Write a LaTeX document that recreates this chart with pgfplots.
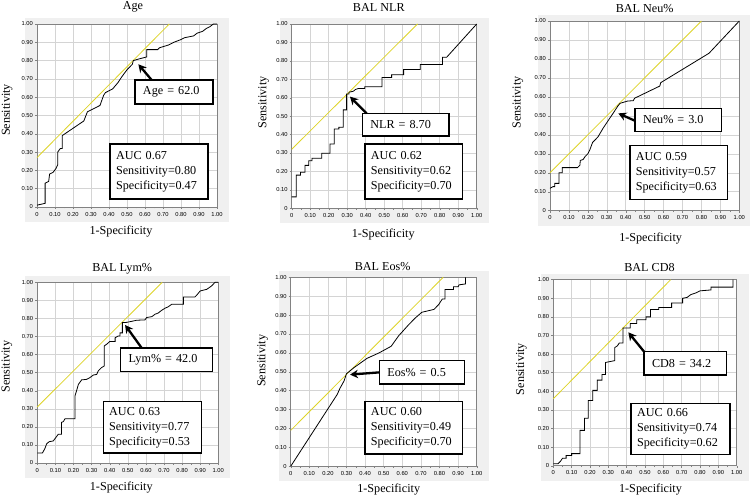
\documentclass[border=0pt]{standalone}
\usepackage{fontspec}
\setmainfont{Liberation Serif}
\newfontfamily\ticksf{Liberation Sans}
\usepackage{pgfplots}
\pgfplotsset{compat=1.18}
\usetikzlibrary{arrows.meta}
\definecolor{bgc}{RGB}{240,240,240}
\definecolor{gridc}{RGB}{212,212,212}
\definecolor{framec}{RGB}{130,130,130}
\definecolor{yel}{RGB}{222,212,40}
\newcommand{\lbl}{\fontsize{12.2}{15}\selectfont}
\newcommand{\tickf}{\ticksf\fontsize{5.8}{6.5}\selectfont}
\pgfplotsset{roc/.style={
  scale only axis, clip=false, xmin=0,xmax=1,ymin=0,ymax=1,
  xtick={0,0.1,0.2,0.3,0.4,0.5,0.6,0.7,0.8,0.9,1},
  ytick={0,0.1,0.2,0.3,0.4,0.5,0.6,0.7,0.8,0.9,1},
  xticklabels={0,0.10,0.20,0.30,0.40,0.50,0.60,0.70,0.80,0.90,1.00},
  yticklabels={0,0.10,0.20,0.30,0.40,0.50,0.60,0.70,0.80,0.90,1.00},
  minor xtick={0.05,0.15,0.25,0.35,0.45,0.55,0.65,0.75,0.85,0.95},
  xtick pos=bottom, ytick pos=left,
  grid=major,
  major grid style={draw=gridc,line width=0.5bp},
  axis line style={draw=framec,line width=0.6bp},
  tick align=outside,
  major tick length=2bp, minor tick length=1.5bp,
  every tick/.style={draw=framec,line width=0.4bp},
  tick label style={font=\tickf, inner sep=1bp},
  xticklabel style={yshift=-2bp},
  yticklabel style={xshift=-1bp},
  axis background/.style={fill=white},
}}
\newcommand{\ptitle}[3]{\node[font=\lbl,anchor=base,xshift=#2bp,yshift=#3bp] at (rel axis cs:0.5,1) {#1};}
\newcommand{\pxlab}[2]{\node[font=\lbl,anchor=base,xshift=#1bp,yshift=-#2bp] at (rel axis cs:0.5,0) {1-Specificity};}
\newcommand{\pylab}[2]{\node[font=\lbl,anchor=base,rotate=90,xshift=#2bp,yshift=#1bp] at (rel axis cs:0,0.5) {Sensitivity};}
\tikzset{cutbox/.style={draw=black,line width=1.3bp,fill=white,inner xsep=8bp,align=left,font=\lbl},
  aucbox/.style={draw=black,line width=1.3bp,fill=white,inner xsep=6bp,align=left,font=\lbl},
  arr/.style={line width=2.3bp,-{Stealth[length=8bp,width=8.5bp]}}}
\begin{document}
\begin{tikzpicture}
\useasboundingbox (0,0) rectangle (750bp,498bp);
\fill[bgc] (25bp,276bp) rectangle (229bp,480bp);
\fill[bgc] (279.7bp,274.7bp) rectangle (488.7bp,480bp);
\fill[bgc] (538bp,272.3bp) rectangle (750bp,483bp);
\fill[bgc] (25.3bp,20bp) rectangle (230.3bp,221.7bp);
\fill[bgc] (278.7bp,16.7bp) rectangle (488.7bp,226.7bp);
\fill[bgc] (541.3bp,17.3bp) rectangle (748.7bp,224.3bp);

% Panel 1 Age
\begin{axis}[roc, width=180bp, height=183bp, at={(37bp,291bp)}, anchor=south west]
\addplot[yel,line width=0.8bp] coordinates {(0,0.27) (0.735,1)};
\addplot[black,line width=0.8bp] coordinates {
(0,0.01)(0.045,0.02)(0.045,0.13)(0.065,0.14)(0.07,0.18)(0.09,0.19)(0.105,0.21)(0.115,0.23)(0.115,0.30)(0.13,0.32)(0.14,0.32)(0.14,0.39)(0.17,0.41)(0.20,0.43)(0.23,0.45)(0.26,0.47)(0.28,0.52)(0.31,0.535)(0.35,0.555)(0.37,0.61)(0.38,0.625)(0.42,0.645)(0.45,0.68)(0.47,0.71)(0.50,0.75)(0.53,0.78)(0.535,0.80)(0.57,0.81)(0.61,0.82)(0.61,0.86)(0.67,0.86)(0.68,0.87)(0.73,0.885)(0.76,0.90)(0.80,0.915)(0.82,0.925)(0.87,0.935)(0.89,0.95)(0.92,0.96)(0.94,0.975)(0.96,0.985)(0.98,1.0)(1,1)};
\node[cutbox,text width=62bp,minimum height=24bp] at (axis cs:0.761,0.628) {Age = 62.0};
\node[aucbox,text width=86bp,minimum height=55bp] at (axis cs:0.678,0.194) {AUC 0.67\\Sensitivity=0.80\\Specificity=0.47};
\draw[arr] (axis cs:0.637,0.694) -- (axis cs:0.563,0.78);
\ptitle{Age}{6}{14}
\pxlab{-6}{27.7}
\pylab{27}{5.5}
\end{axis}

% Panel 2 NLR
\begin{axis}[roc, width=185bp, height=184.3bp, at={(291.7bp,289.7bp)}, anchor=south west]
\addplot[yel,line width=0.8bp] coordinates {(0,0.32) (0.68,1)};
\addplot[black,line width=0.8bp] coordinates {
(0,0.062)(0.025,0.062)(0.025,0.18)(0.048,0.18)(0.048,0.196)(0.072,0.196)(0.072,0.233)(0.092,0.233)(0.092,0.258)(0.11,0.258)(0.11,0.272)(0.162,0.272)(0.162,0.299)(0.207,0.299)(0.207,0.349)(0.230,0.349)(0.230,0.43)(0.255,0.43)(0.255,0.44)(0.279,0.44)(0.279,0.534)(0.297,0.534)(0.297,0.62)(0.31,0.62)(0.31,0.63)(0.333,0.635)(0.345,0.645)(0.36,0.65)(0.395,0.65)(0.395,0.66)(0.488,0.66)(0.488,0.71)(0.54,0.71)(0.54,0.725)(0.605,0.725)(0.605,0.753)(0.695,0.753)(0.695,0.78)(0.815,0.78)(0.815,0.82)(0.838,0.82)(1,1)};
\node[cutbox,text width=70.7bp,minimum height=22.7bp] at (axis cs:0.616,0.454) {NLR = 8.70};
\node[aucbox,text width=85.7bp,minimum height=55bp] at (axis cs:0.66,0.20) {AUC 0.62\\Sensitivity=0.62\\Specificity=0.70};
\draw[arr] (axis cs:0.405,0.515) -- (axis cs:0.315,0.606);
\ptitle{BAL NLR}{-5.4}{12.3}
\pxlab{-1}{29.7}
\pylab{25.4}{13.7}
\end{axis}

% Panel 3 Neu%
\begin{axis}[roc, width=189.3bp, height=189.7bp, at={(550bp,287.3bp)}, anchor=south west]
\addplot[yel,line width=0.8bp] coordinates {(0,0.20) (0.80,1)};
\addplot[black,line width=0.8bp] coordinates {
(0,0.118)(0.016,0.127)(0.025,0.127)(0.025,0.144)(0.048,0.144)(0.048,0.20)(0.065,0.20)(0.065,0.227)(0.145,0.227)(0.158,0.24)(0.16,0.265)(0.175,0.27)(0.185,0.285)(0.2,0.30)(0.21,0.32)(0.225,0.36)(0.24,0.375)(0.254,0.39)(0.28,0.434)(0.306,0.473)(0.333,0.513)(0.36,0.554)(0.37,0.566)(0.41,0.578)(0.44,0.58)(0.447,0.593)(0.58,0.657)(0.585,0.675)(0.84,0.83)(1,1)};
\node[cutbox,text width=70.7bp,minimum height=23.4bp] at (axis cs:0.678,0.478) {Neu\% = 3.0};
\node[aucbox,text width=85.7bp,minimum height=53.6bp] at (axis cs:0.68,0.201) {AUC 0.59\\Sensitivity=0.57\\Specificity=0.63};
\draw[arr] (axis cs:0.449,0.474) -- (axis cs:0.361,0.513);
\ptitle{BAL Neu\%}{0}{8.3}
\pxlab{6}{30.6}
\pylab{29.3}{13.3}
\end{axis}

% Panel 4 Lym%
\begin{axis}[roc, width=181bp, height=180.7bp, at={(37.3bp,35bp)}, anchor=south west]
\addplot[yel,line width=0.8bp] coordinates {(0,0.31) (0.69,1)};
\addplot[black,line width=0.8bp] coordinates {
(0,0.055)(0.028,0.055)(0.042,0.08)(0.052,0.107)(0.066,0.118)(0.088,0.122)(0.098,0.135)(0.116,0.159)(0.134,0.159)(0.134,0.225)(0.144,0.229)(0.153,0.245)(0.208,0.245)(0.208,0.371)(0.217,0.40)(0.227,0.435)(0.245,0.46)(0.273,0.463)(0.29,0.472)(0.31,0.487)(0.328,0.49)(0.337,0.51)(0.355,0.528)(0.37,0.537)(0.37,0.648)(0.383,0.657)(0.40,0.672)(0.43,0.672)(0.43,0.693)(0.447,0.703)(0.457,0.703)(0.457,0.72)(0.47,0.72)(0.47,0.777)(0.486,0.777)(0.512,0.782)(0.549,0.79)(0.595,0.792)(0.604,0.805)(0.633,0.81)(0.65,0.823)(0.668,0.83)(0.687,0.845)(0.705,0.856)(0.724,0.865)(0.742,0.878)(0.807,0.878)(0.807,0.919)(0.871,0.919)(0.88,0.928)(0.90,0.952)(0.936,0.961)(0.963,0.98)(0.982,1.0)(1,1)};
\node[cutbox,text width=75.6bp,minimum height=23.7bp] at (axis cs:0.714,0.571) {Lym\% = 42.0};
\node[aucbox,text width=86.4bp,minimum height=51.3bp] at (axis cs:0.636,0.197) {AUC 0.63\\Sensitivity=0.77\\Specificity=0.53};
\draw[arr] (axis cs:0.577,0.636) -- (axis cs:0.485,0.764);
\ptitle{BAL Lym\%}{-5.6}{10.3}
\pxlab{-6.5}{27.3}
\pylab{27.6}{6}
\end{axis}

% Panel 5 Eos%
\begin{axis}[roc, width=186bp, height=189bp, at={(290.7bp,31.7bp)}, anchor=south west]
\addplot[yel,line width=0.8bp] coordinates {(0,0.19) (0.82,1)};
\addplot[black,line width=0.8bp] coordinates {
(0,0)(0.25,0.38)(0.265,0.413)(0.287,0.452)(0.30,0.49)(0.34,0.522)(0.41,0.571)(0.475,0.60)(0.54,0.635)(0.58,0.69)(0.635,0.75)(0.67,0.785)(0.705,0.815)(0.77,0.83)(0.795,0.855)(0.815,0.885)(0.83,0.885)(0.83,0.935)(0.875,0.935)(0.875,0.95)(0.90,0.95)(0.905,0.96)(0.94,0.965)(0.94,1.0)};
\node[cutbox,text width=69bp,minimum height=23.3bp] at (axis cs:0.705,0.497) {Eos\% = 0.5};
\node[aucbox,text width=85.7bp,minimum height=52.3bp] at (axis cs:0.662,0.203) {AUC 0.60\\Sensitivity=0.49\\Specificity=0.70};
\draw[arr] (axis cs:0.476,0.497) -- (axis cs:0.319,0.485);
\ptitle{BAL Eos\%}{-1}{6.6}
\pxlab{5}{25.7}
\pylab{25.4}{11}
\end{axis}

% Panel 6 CD8
\begin{axis}[roc, width=183.4bp, height=186bp, at={(553.3bp,32.3bp)}, anchor=south west]
\addplot[yel,line width=0.8bp] coordinates {(0,0.36) (0.64,1)};
\addplot[black,line width=0.8bp] coordinates {
(0,0.01)(0.025,0.01)(0.04,0.025)(0.05,0.04)(0.07,0.04)(0.07,0.055)(0.10,0.055)(0.10,0.065)(0.145,0.065)(0.145,0.19)(0.17,0.19)(0.17,0.255)(0.19,0.255)(0.19,0.35)(0.215,0.35)(0.215,0.405)(0.24,0.405)(0.24,0.46)(0.265,0.46)(0.265,0.49)(0.285,0.49)(0.285,0.555)(0.335,0.565)(0.335,0.635)(0.35,0.645)(0.36,0.66)(0.38,0.66)(0.38,0.74)(0.42,0.74)(0.42,0.765)(0.455,0.765)(0.455,0.785)(0.505,0.785)(0.505,0.80)(0.53,0.80)(0.53,0.84)(0.575,0.84)(0.575,0.85)(0.645,0.85)(0.645,0.875)(0.705,0.875)(0.705,0.90)(0.73,0.905)(0.75,0.92)(0.78,0.93)(0.80,0.94)(0.86,0.945)(0.86,0.96)(0.98,0.96)(0.98,1.0)};
\node[cutbox,text width=66.7bp,minimum height=23.3bp] at (axis cs:0.72,0.55) {CD8 = 34.2};
\node[aucbox,text width=87bp,minimum height=51.4bp] at (axis cs:0.694,0.197) {AUC 0.66\\Sensitivity=0.74\\Specificity=0.62};
\draw[arr] (axis cs:0.495,0.613) -- (axis cs:0.409,0.717);
\ptitle{BAL CD8}{4.5}{8}
\pxlab{5.5}{26.3}
\pylab{29.3}{3.7}
\end{axis}
\end{tikzpicture}
\end{document}
